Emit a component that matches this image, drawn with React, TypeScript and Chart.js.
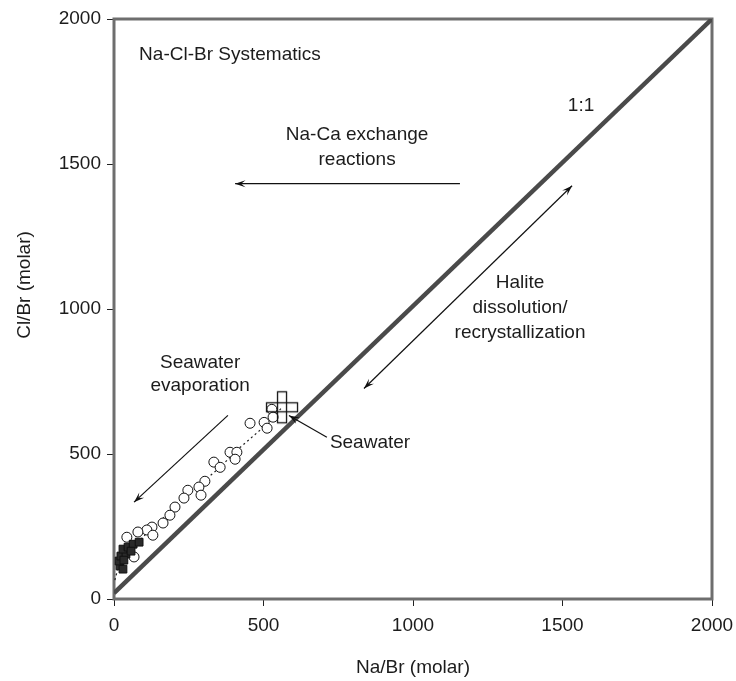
import React, { useEffect, useRef } from "react";
import { Chart, registerables } from "chart.js";

Chart.register(...registerables);

// ---- axis ticks ----
const xTickValues = [0, 500, 1000, 1500, 2000];
const yTickValues = [0, 500, 1000, 1500, 2000];

// ---- data series ----
const circleX = [528, 532, 502, 512, 455, 388, 411, 405, 334, 355, 304, 284, 291, 247, 234, 204, 187, 164, 127, 110, 80, 130, 43, 67];
const circleY = [654, 627, 609, 589, 606, 506, 506, 482, 472, 454, 406, 386, 358, 375, 348, 317, 289, 262, 248, 238, 231, 220, 213, 145];

const squareX = [20, 30, 17, 23, 40, 30, 47, 64, 84, 57, 33];
const squareY = [114, 103, 131, 148, 155, 172, 179, 189, 196, 165, 134];

const trendX = [3, 20, 130, 164, 211, 261, 304, 355, 411, 515, 562];
const trendY = [65, 134, 248, 279, 330, 375, 410, 454, 513, 606, 661];

const seawaterX = [562];
const seawaterY = [661];

const oneToOneX = [0, 2000];
const oneToOneY = [20, 2000];

// ---- annotations (data units) ----
const labelTexts = ["Na-Cl-Br Systematics", "1:1", "Na-Ca exchange", "reactions", "Halite", "dissolution/", "recrystallization", "Seawater", "evaporation", "Seawater"];
const labelX = [84, 1562, 813, 813, 1358, 1358, 1358, 288, 288, 722];
const labelY = [1876, 1700, 1601, 1513, 1091, 1005, 919, 816, 737, 540];
const labelAlign = ["left", "center", "center", "center", "center", "center", "center", "center", "center", "left"];

const arrowFromX = [1157, 836, 381, 712];
const arrowFromY = [1432, 726, 633, 558];
const arrowToX = [405, 1532, 67, 585];
const arrowToY = [1432, 1425, 334, 633];
const arrowBothEnds = [false, true, false, false];

const FONT = "'Liberation Sans', Arial, Helvetica, sans-serif";
const TEXT_COLOR = "#1c1c1c";
const FONT_SIZE = 19;

function makeCrossImage(): HTMLCanvasElement {
  const c = document.createElement("canvas");
  c.width = 36;
  c.height = 36;
  const g = c.getContext("2d")!;
  g.strokeStyle = "#111";
  g.lineWidth = 1.3;
  g.strokeRect(2.5, 13.5, 31, 9);
  g.strokeRect(13.5, 2.5, 9, 31);
  return c;
}

function drawHead(ctx: CanvasRenderingContext2D, tx: number, ty: number, fx: number, fy: number) {
  const ang = Math.atan2(ty - fy, tx - fx);
  const len = 11;
  const spread = 0.33;
  ctx.beginPath();
  ctx.moveTo(tx, ty);
  ctx.lineTo(tx - len * Math.cos(ang - spread), ty - len * Math.sin(ang - spread));
  ctx.lineTo(tx - len * 0.55 * Math.cos(ang), ty - len * 0.55 * Math.sin(ang));
  ctx.lineTo(tx - len * Math.cos(ang + spread), ty - len * Math.sin(ang + spread));
  ctx.closePath();
  ctx.fill();
}

const annotationPlugin = {
  id: "annotations",
  beforeDatasetsDraw(chart: any) {
    const { ctx, chartArea } = chart;
    ctx.save();
    ctx.strokeStyle = "#6e6e6e";
    ctx.lineWidth = 3;
    ctx.strokeRect(chartArea.left, chartArea.top, chartArea.right - chartArea.left, chartArea.bottom - chartArea.top);
    ctx.restore();
  },
  afterDraw(chart: any) {
    const { ctx, scales } = chart;
    const xs = scales.x;
    const ys = scales.y;
    ctx.save();
    ctx.fillStyle = TEXT_COLOR;
    ctx.font = `${FONT_SIZE}px ${FONT}`;
    ctx.textBaseline = "middle";
    labelTexts.forEach((t, i) => {
      ctx.textAlign = labelAlign[i] as CanvasTextAlign;
      ctx.fillText(t, xs.getPixelForValue(labelX[i]), ys.getPixelForValue(labelY[i]));
    });
    // arrows
    ctx.strokeStyle = "#111";
    ctx.fillStyle = "#111";
    ctx.lineWidth = 1.2;
    arrowFromX.forEach((_, i) => {
      const fx = xs.getPixelForValue(arrowFromX[i]);
      const fy = ys.getPixelForValue(arrowFromY[i]);
      const tx = xs.getPixelForValue(arrowToX[i]);
      const ty = ys.getPixelForValue(arrowToY[i]);
      ctx.beginPath();
      ctx.moveTo(fx, fy);
      ctx.lineTo(tx, ty);
      ctx.stroke();
      drawHead(ctx, tx, ty, fx, fy);
      if (arrowBothEnds[i]) drawHead(ctx, fx, fy, tx, ty);
    });
    // y-axis title
    ctx.fillStyle = TEXT_COLOR;
    ctx.font = `${FONT_SIZE}px ${FONT}`;
    ctx.textAlign = "center";
    ctx.translate(25, 285);
    ctx.rotate(-Math.PI / 2);
    ctx.fillText("Cl/Br (molar)", 0, 0);
    ctx.restore();
  },
};

export default function App() {
  const ref = useRef<HTMLCanvasElement | null>(null);

  useEffect(() => {
    if (!ref.current) return;
    const cross = makeCrossImage();
    const pts = (xa: number[], ya: number[]) => xa.map((x, i) => ({ x, y: ya[i] }));
    const tickFont = { family: FONT, size: FONT_SIZE };

    const chart = new Chart(ref.current, {
      type: "scatter",
      data: {
        datasets: [
          {
            label: "1:1",
            data: pts(oneToOneX, oneToOneY),
            showLine: true,
            borderColor: "#4a4a4a",
            borderWidth: 4.5,
            pointRadius: 0,
            order: 5,
          },
          {
            label: "trend",
            data: pts(trendX, trendY),
            showLine: true,
            borderColor: "#222",
            borderWidth: 1.2,
            borderDash: [2, 3],
            pointRadius: 0,
            order: 4,
          },
          {
            label: "samples",
            data: pts(circleX, circleY),
            pointStyle: "circle",
            pointRadius: 5,
            backgroundColor: "#ffffff",
            borderColor: "#111",
            borderWidth: 1,
            order: 3,
          },
          {
            label: "brines",
            data: pts(squareX, squareY),
            pointStyle: "rect",
            pointRadius: 5.5,
            backgroundColor: "#2a2a2a",
            borderColor: "#111",
            borderWidth: 1,
            order: 2,
          },
          {
            label: "Seawater",
            data: pts(seawaterX, seawaterY),
            pointStyle: cross as any,
            pointRadius: 18,
            order: 1,
          },
        ],
      },
      options: {
        responsive: false,
        animation: false,
        devicePixelRatio: 1,
        layout: { padding: { left: 0, right: 24, top: 18, bottom: 0 } },
        plugins: { legend: { display: false }, tooltip: { enabled: false } },
        scales: {
          x: {
            type: "linear",
            min: 0,
            max: 2000,
            afterBuildTicks: (s: any) => {
              s.ticks = xTickValues.map((v) => ({ value: v }));
            },
            afterFit: (s: any) => {
              s.height = 82;
              s.paddingLeft = 0;
              s.paddingRight = 0;
            },
            ticks: { color: TEXT_COLOR, font: tickFont, padding: 8, maxRotation: 0, callback: (v: any) => String(v) },
            grid: { display: true, drawOnChartArea: false, drawTicks: true, tickLength: 7, color: "#222", lineWidth: 1 },
            border: { display: false },
            title: { display: true, text: "Na/Br (molar)", color: TEXT_COLOR, font: tickFont, padding: { top: 0, bottom: 2 } },
          },
          y: {
            type: "linear",
            min: 0,
            max: 2000,
            afterBuildTicks: (s: any) => {
              s.ticks = yTickValues.map((v) => ({ value: v }));
            },
            afterFit: (s: any) => {
              s.width = 114;
              s.paddingTop = 0;
              s.paddingBottom = 0;
            },
            ticks: { color: TEXT_COLOR, font: tickFont, padding: 6, callback: (v: any) => String(v) },
            grid: { display: true, drawOnChartArea: false, drawTicks: true, tickLength: 7, color: "#222", lineWidth: 1 },
            border: { display: false },
          },
        },
      },
      plugins: [annotationPlugin],
    } as any);

    return () => chart.destroy();
  }, []);

  return (
    <div style={{ position: "fixed", left: 0, top: 0, width: 736, height: 681, background: "#fff" }}>
      <canvas ref={ref} width={736} height={681} style={{ width: 736, height: 681, display: "block" }} />
    </div>
  );
}
